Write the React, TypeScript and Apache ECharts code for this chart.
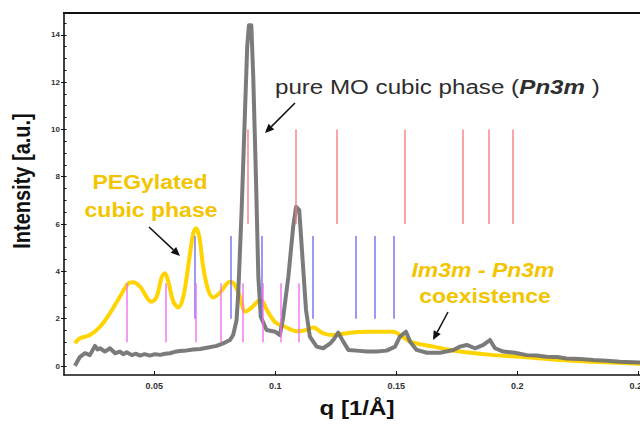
import React, { useEffect, useRef } from "react";
import * as echarts from "echarts";

// ---- data ----
const xTickValues = [0.05, 0.1, 0.15, 0.2, 0.25];
const yTickValues = [0, 2, 4, 6, 8, 10, 12, 14];
const yMinorTickValues = [
  0, 0.5, 1, 1.5, 2, 2.5, 3, 3.5, 4, 4.5, 5, 5.5, 6, 6.5, 7, 7.5, 8, 8.5, 9, 9.5, 10, 10.5, 11, 11.5, 12, 12.5, 13, 13.5, 14, 14.5,
];

// pure MO cubic phase (grey)
const pureMO: [number, number][] = [
  [0.0172, 0.01], [0.0193, 0.39], [0.0214, 0.54], [0.0234, 0.46], [0.0255, 0.85], [0.0266, 0.7],
  [0.0276, 0.75], [0.0296, 0.61], [0.0317, 0.75], [0.0338, 0.54], [0.0358, 0.61], [0.0372, 0.5],
  [0.0386, 0.58], [0.0407, 0.46], [0.0425, 0.52], [0.0441, 0.44], [0.046, 0.5], [0.0482, 0.44],
  [0.0503, 0.5], [0.0524, 0.47], [0.0545, 0.52], [0.0565, 0.54], [0.0585, 0.6], [0.0606, 0.63],
  [0.0635, 0.66], [0.0661, 0.7], [0.069, 0.72], [0.0717, 0.77], [0.0758, 0.85], [0.0792, 0.99],
  [0.0813, 1.1], [0.0826, 1.31], [0.084, 1.94], [0.0847, 3.07], [0.0861, 6.6], [0.0875, 10.8],
  [0.0884, 13.5], [0.0891, 14.4], [0.0901, 14.4], [0.0909, 12.2], [0.092, 8.0], [0.093, 3.77],
  [0.094, 2.08], [0.0964, 1.52], [0.0999, 1.45], [0.1019, 1.31], [0.1033, 2.08], [0.1054, 3.77],
  [0.1074, 5.89], [0.1086, 6.73], [0.1099, 6.59], [0.1113, 4.48], [0.1127, 2.37], [0.1143, 1.24],
  [0.1171, 0.82], [0.1198, 0.75], [0.1226, 0.95], [0.124, 1.1], [0.126, 1.41], [0.1281, 1.03],
  [0.1302, 0.68], [0.1336, 0.65], [0.1378, 0.61], [0.1419, 0.61], [0.146, 0.65], [0.1495, 0.82],
  [0.1515, 1.24], [0.154, 1.45], [0.1557, 1.03], [0.1584, 0.68], [0.1626, 0.56], [0.1681, 0.56],
  [0.1736, 0.68], [0.1763, 0.82], [0.1791, 0.89], [0.1825, 0.75], [0.186, 0.89], [0.1887, 1.1],
  [0.1908, 0.75], [0.1942, 0.61], [0.199, 0.56], [0.2039, 0.46], [0.208, 0.44], [0.2121, 0.39],
  [0.2165, 0.38], [0.2204, 0.32], [0.226, 0.3], [0.2314, 0.25], [0.237, 0.22], [0.2424, 0.18],
  [0.2507, 0.15],
];

// PEGylated cubic phase (yellow)
const pegylated: [number, number][] = [
  [0.0172, 0.96], [0.0193, 1.17], [0.0234, 1.31], [0.0276, 1.66], [0.0317, 2.23], [0.0358, 2.93],
  [0.0393, 3.49], [0.0413, 3.54], [0.0441, 3.35], [0.0489, 2.72], [0.051, 2.93], [0.0531, 3.77],
  [0.0544, 3.92], [0.0558, 3.56], [0.0579, 2.72], [0.0599, 2.48], [0.062, 2.93], [0.064, 4.2],
  [0.0661, 5.61], [0.0672, 5.82], [0.0686, 5.47], [0.0702, 4.2], [0.0723, 3.21], [0.0744, 2.9],
  [0.0771, 3.1], [0.0813, 3.56], [0.0833, 3.42], [0.0854, 2.93], [0.0876, 2.3], [0.09, 2.45],
  [0.094, 2.8], [0.0965, 2.37], [0.1, 1.85], [0.104, 1.66], [0.109, 1.47], [0.112, 1.5],
  [0.1157, 1.63], [0.1198, 1.38], [0.124, 1.31], [0.1309, 1.41], [0.1378, 1.45], [0.1488, 1.45],
  [0.1515, 1.31], [0.1557, 1.03], [0.1653, 0.82], [0.1722, 0.68], [0.1805, 0.56], [0.1901, 0.46],
  [0.2039, 0.37], [0.2177, 0.25], [0.2314, 0.18], [0.2507, 0.1],
];

// reflection positions
const pn3mPeaks = [0.0888, 0.1086, 0.1254, 0.1537, 0.1774, 0.188, 0.1981];
const pn3mRange: [number, number] = [6, 10];
const im3mPeaks = [0.0668, 0.0816, 0.0944, 0.1155, 0.1332, 0.1413, 0.149];
const im3mRange: [number, number] = [2, 5.5];
const pegPeaks = [0.0386, 0.0547, 0.0671, 0.0774, 0.0865, 0.0948, 0.1024, 0.1095];
const pegRange: [number, number] = [1, 3.5];

const FONT = "'Liberation Sans', Arial, Helvetica, sans-serif";
const SX = 1.15;

function arrow(x1: number, y1: number, x2: number, y2: number) {
  const dx = x2 - x1;
  const dy = y2 - y1;
  const len = Math.sqrt(dx * dx + dy * dy);
  const ux = dx / len;
  const uy = dy / len;
  const hl = 9;
  const hw = 4;
  const bx = x2 - ux * hl;
  const by = y2 - uy * hl;
  const px = -uy * hw;
  const py = ux * hw;
  return [
    {
      type: "line",
      shape: { x1, y1, x2: bx, y2: by },
      style: { stroke: "#111", lineWidth: 1.5 },
      silent: true,
    },
    {
      type: "polygon",
      shape: { points: [[x2, y2], [bx + px, by + py], [bx - px, by - py]] },
      style: { fill: "#111" },
      silent: true,
    },
  ];
}

function refLines(peaks: number[], range: [number, number], color: string, name: string) {
  return {
    type: "lines",
    name,
    coordinateSystem: "cartesian2d",
    z: 5,
    silent: true,
    lineStyle: { color, width: 1.6, opacity: 0.85 },
    data: peaks.map((q) => ({ coords: [[q, range[0]], [q, range[1]]] })),
  };
}

export default function App() {
  const ref = useRef<HTMLDivElement>(null);
  useEffect(() => {
    if (!ref.current) return;
    const chart = echarts.init(ref.current, null, { renderer: "svg" });
    const yellowText = "#F2C500";
    const option: any = {
      animation: false,
      backgroundColor: "#ffffff",
      grid: { left: 64, right: 0, top: 13, bottom: 52, containLabel: false, outerBoundsMode: "none" },
      xAxis: [
        {
          type: "value",
          min: 0.0127,
          max: 0.2507,
          splitLine: { show: false },
          axisLine: { show: true, onZero: false, lineStyle: { color: "#111", width: 1.6 } },
          axisTick: { show: true, inside: true, length: 4, customValues: xTickValues, lineStyle: { color: "#111" } },
          axisLabel: {
            customValues: xTickValues,
            fontSize: 9,
            fontWeight: "bold",
            color: "#333",
            fontFamily: FONT,
            margin: 6,
            formatter: (v: number) => String(+v.toFixed(2)),
          },
        },
      ],
      yAxis: [
        {
          type: "value",
          min: -0.38,
          max: 14.92,
          splitLine: { show: false },
          axisLine: { show: true, onZero: false, lineStyle: { color: "#111", width: 1.6 } },
          axisTick: { show: true, inside: false, length: 3, customValues: yTickValues, lineStyle: { color: "#111" } },
          axisLabel: {
            customValues: yTickValues,
            fontSize: 8,
            fontWeight: "bold",
            color: "#333",
            fontFamily: FONT,
            margin: 4,
          },
        },
        {
          type: "value",
          position: "left",
          min: -0.38,
          max: 14.92,
          splitLine: { show: false },
          axisLine: { show: false, onZero: false },
          axisTick: { show: true, inside: true, length: 2.5, customValues: yMinorTickValues, lineStyle: { color: "#111" } },
          axisLabel: { show: false },
        },
      ],
      series: [
        {
          type: "line",
          name: "PEGylated cubic phase",
          data: pegylated,
          smooth: 0.35,
          showSymbol: false,
          z: 2,
          lineStyle: { color: "#FFD400", width: 4 },
        },
        {
          type: "line",
          name: "pure MO cubic phase",
          data: pureMO,
          smooth: false,
          showSymbol: false,
          z: 3,
          lineStyle: { color: "#707070", width: 4, opacity: 0.92, join: "round" },
        },
        refLines(pn3mPeaks, pn3mRange, "#F47A7A", "Pn3m"),
        refLines(im3mPeaks, im3mRange, "#6A6AF0", "Im3m"),
        refLines(pegPeaks, pegRange, "#F06CF0", "PEG"),
      ],
      graphic: [
        {
          type: "rect",
          silent: true,
          z: 10,
          shape: { x: 63, y: 12, width: 577, height: 2 },
          style: { fill: "#111" },
        },
        {
          type: "text",
          x: 275,
          y: 87,
          scaleX: SX,
          silent: true,
          style: {
            text: "{n|pure MO cubic phase (}{i|Pn3m}{n| )}",
            align: "left",
            verticalAlign: "middle",
            rich: {
              n: { fontSize: 21, fontFamily: FONT, fill: "#2e2e2e", fontWeight: "normal" },
              i: { fontSize: 21, fontFamily: FONT, fill: "#2e2e2e", fontWeight: "bold", fontStyle: "italic" },
            },
          },
        },
        {
          type: "text",
          x: 150,
          y: 182,
          scaleX: SX,
          silent: true,
          style: { text: "PEGylated", fontSize: 20, fontWeight: "bold", fontFamily: FONT, fill: yellowText, align: "center", verticalAlign: "middle" },
        },
        {
          type: "text",
          x: 151,
          y: 210,
          scaleX: SX,
          silent: true,
          style: { text: "cubic phase", fontSize: 20, fontWeight: "bold", fontFamily: FONT, fill: yellowText, align: "center", verticalAlign: "middle" },
        },
        {
          type: "text",
          x: 483,
          y: 270,
          scaleX: SX,
          silent: true,
          style: { text: "Im3m - Pn3m", fontSize: 20, fontWeight: "bold", fontStyle: "italic", fontFamily: FONT, fill: yellowText, align: "center", verticalAlign: "middle" },
        },
        {
          type: "text",
          x: 485,
          y: 296,
          scaleX: SX,
          silent: true,
          style: { text: "coexistence", fontSize: 20, fontWeight: "bold", fontFamily: FONT, fill: yellowText, align: "center", verticalAlign: "middle" },
        },
        {
          type: "text",
          x: 22,
          y: 181,
          rotation: Math.PI / 2,
          scaleY: SX,
          silent: true,
          style: { text: "Intensity [a.u.]", fontSize: 20, fontWeight: "bold", fontFamily: FONT, fill: "#111", align: "center", verticalAlign: "middle" },
        },
        {
          type: "text",
          x: 357,
          y: 408,
          scaleX: SX,
          silent: true,
          style: { text: "q [1/Å]", fontSize: 21, fontWeight: "bold", fontFamily: FONT, fill: "#111", align: "center", verticalAlign: "middle" },
        },
        ...arrow(295, 103, 265, 133),
        ...arrow(149, 227, 180, 256),
        ...arrow(448, 312, 433, 340),
      ],
    };
    chart.setOption(option);
    return () => chart.dispose();
  }, []);
  return (
    <div
      ref={ref}
      style={{ position: "absolute", left: 0, top: 0, width: 640, height: 427, background: "#fff" }}
    />
  );
}
